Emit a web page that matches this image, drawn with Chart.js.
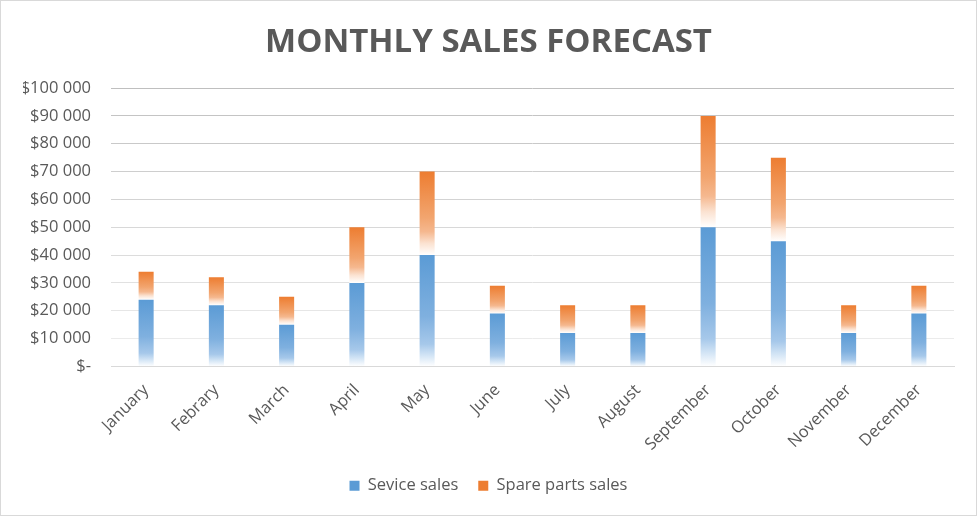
<!DOCTYPE html>
<html>
<head>
<meta charset="utf-8">
<script src="https://cdn.jsdelivr.net/npm/chart.js@4.4.1/dist/chart.umd.min.js"></script>
<style>
  html, body { margin: 0; padding: 0; background: #fff; }
  #wrap { width: 977px; height: 516px; box-sizing: border-box; border: 1px solid #d9d9d9; position: relative; }
  canvas { display: block; }
</style>
</head>
<body>
<div id="wrap"><canvas id="c" width="975" height="514"></canvas></div>
<script>
const months = ["January", "Febrary", "March", "April", "May", "June", "July", "August", "September", "October", "November", "December"];
const serviceSales = [24000, 22000, 15000, 30000, 40000, 19000, 12000, 12000, 50000, 45000, 12000, 19000];
const sparePartsSales = [10000, 10000, 10000, 20000, 30000, 10000, 10000, 10000, 40000, 30000, 10000, 10000];
const seriesNames = ["Sevice sales", "Spare parts sales"];
const chartTitle = "MONTHLY SALES FORECAST";

const BLUE = "#5b9bd5";
const ORANGE = "#ed7d31";
const FONT = "'Open Sans'";

function gradientFill(base, stops) {
  return function (ctx) {
    const chart = ctx.chart;
    const area = chart.chartArea;
    if (!area || ctx.type !== "data") return base;
    const i = ctx.dataIndex;
    const dsIdx = ctx.datasetIndex;
    let start = 0;
    for (let j = 0; j < dsIdx; j++) start += chart.data.datasets[j].data[i];
    const end = start + chart.data.datasets[dsIdx].data[i];
    const y = chart.scales.y;
    const yTop = y.getPixelForValue(end);
    const yBot = y.getPixelForValue(start);
    if (!isFinite(yTop) || !isFinite(yBot) || yTop === yBot) return base;
    const g = chart.ctx.createLinearGradient(0, yTop, 0, yBot);
    stops.forEach(s => g.addColorStop(s[0], s[1]));
    return g;
  };
}

const blueStops = [[0, "#5b9bd5"], [0.55, "#7fb0df"], [0.8, "#a6c8ea"], [0.9, "#d2e4f5"], [1, "#ffffff"]];
const orangeStops = [[0, "#ed7d31"], [0.55, "#f2a56f"], [0.72, "#f5b88f"], [0.86, "#fbe2d1"], [1, "#ffffff"]];
const legendColors = [BLUE, ORANGE];

function fmtDollar(v) {
  if (v === 0) return "$-";
  return "$" + String(v).replace(/\B(?=(\d{3})+(?!\d))/g, " ");
}

function gridColor(ctx) {
  const v = ctx.tick ? ctx.tick.value : 0;
  if (v === 0) return "#d9d9d9";
  const t = v / 100000;
  const c = Math.round(0xf0 + (0xbf - 0xf0) * t);
  return "rgb(" + c + "," + c + "," + c + ")";
}

new Chart(document.getElementById("c"), {
  type: "bar",
  data: {
    labels: months,
    datasets: [
      { label: seriesNames[0], data: serviceSales, backgroundColor: gradientFill(BLUE, blueStops), borderWidth: 0 },
      { label: seriesNames[1], data: sparePartsSales, backgroundColor: gradientFill(ORANGE, orangeStops), borderWidth: 0 }
    ]
  },
  options: {
    responsive: false,
    animation: false,
    datasets: { bar: { categoryPercentage: 1, barPercentage: 0.214 } },
    layout: { padding: { left: 22, right: 22, top: 0, bottom: 11 } },
    plugins: {
      title: {
        display: true,
        text: chartTitle,
        color: "#595959",
        font: { family: FONT, size: 33, weight: "bold" },
        padding: { top: 22, bottom: 25.5 }
      },
      legend: {
        position: "bottom",
        labels: {
          color: "#595959",
          font: { family: FONT, size: 16.5 },
          boxWidth: 10,
          boxHeight: 10,
          padding: 20,
          generateLabels: (chart) => chart.data.datasets.map((ds, i) => ({
            text: ds.label,
            fillStyle: legendColors[i],
            strokeStyle: legendColors[i],
            lineWidth: 0,
            hidden: false,
            datasetIndex: i,
            fontColor: "#595959"
          }))
        }
      },
      tooltip: { enabled: false }
    },
    scales: {
      x: {
        stacked: true,
        grid: { display: false },
        border: { color: "#d9d9d9" },
        ticks: {
          color: "#595959",
          font: { family: FONT, size: 16.5 },
          minRotation: 45,
          maxRotation: 45,
          padding: 6
        },
        afterFit: (s) => { s.height -= 3; }
      },
      y: {
        stacked: true,
        min: 0,
        max: 100000,
        grid: { color: gridColor, lineWidth: 1, drawTicks: false },
        border: { display: false },
        ticks: {
          stepSize: 10000,
          color: "#595959",
          font: { family: FONT, size: 16.5 },
          padding: 20,
          callback: (v) => fmtDollar(v)
        },
        afterFit: (s) => { s.width = 88; }
      }
    }
  }
});
</script>
</body>
</html>
